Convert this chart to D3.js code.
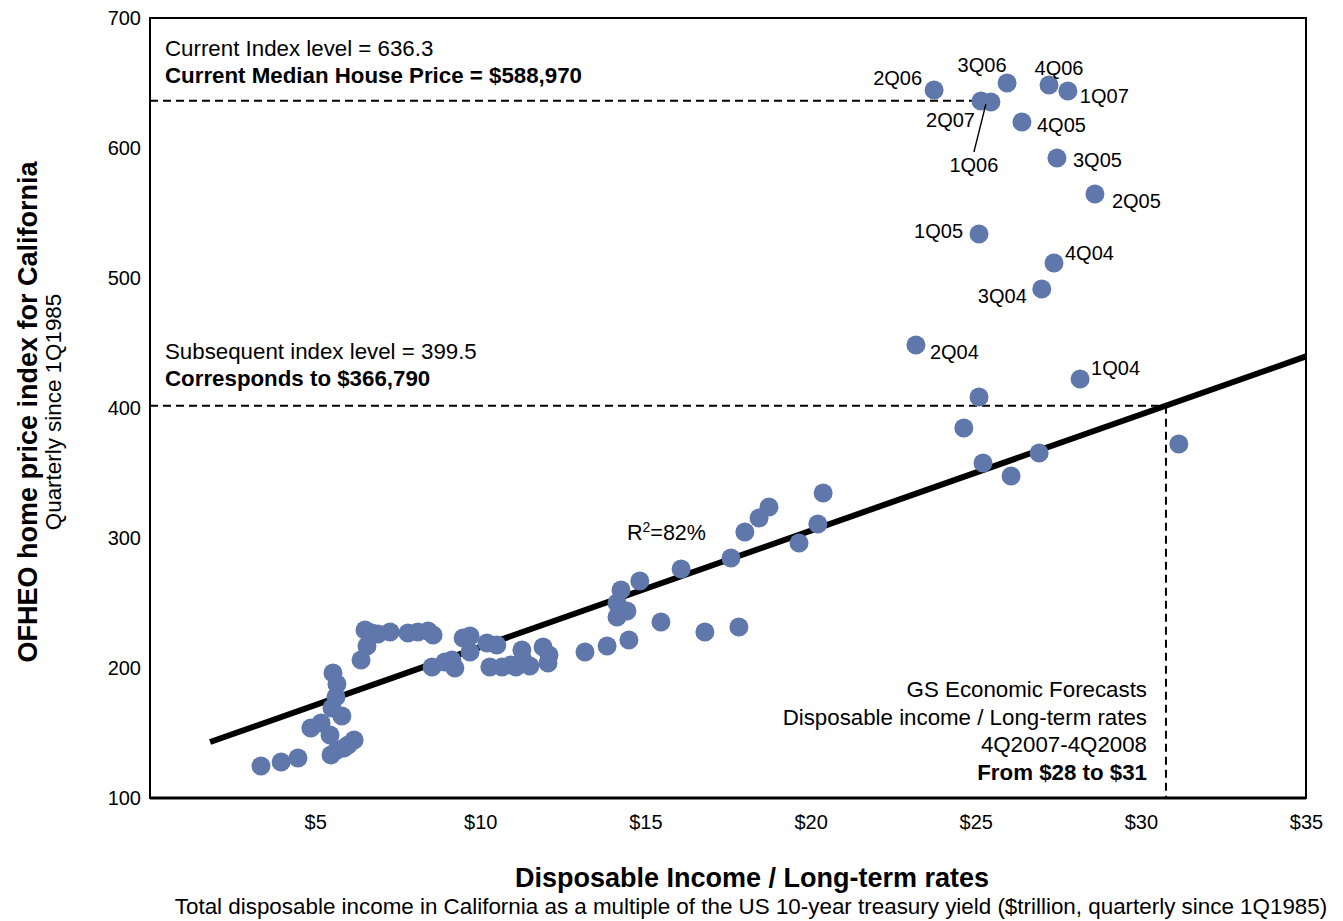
<!DOCTYPE html>
<html>
<head>
<meta charset="utf-8">
<script src="https://cdn.jsdelivr.net/npm/d3@7"></script>
<style>
  html, body { margin: 0; padding: 0; background: #fff; }
  svg text { font-family: Arial, "Liberation Sans", sans-serif; fill: #000; }
</style>
</head>
<body>
<svg id="chart" width="1343" height="921"></svg>
<script>
// ---------- DATA ----------
// Unlabelled quarterly points (Disposable income / long-term rates, OFHEO index)
const pointsX = [3.36, 3.97, 4.48, 4.87, 5.18, 5.45, 5.48, 5.66, 5.87, 6.0, 6.18, 5.51, 5.81, 5.63, 5.66, 5.54,
  6.39, 6.57, 6.51, 6.72, 6.9, 7.27, 7.81, 8.11, 8.42, 8.57,
  8.54, 8.93, 9.14, 9.23, 9.48, 9.69, 9.69, 10.2, 10.29, 10.5, 10.66, 10.93, 11.08, 11.26, 11.29, 11.5, 11.9, 12.08, 12.05,
  13.17, 13.84, 14.5, 14.14, 14.44, 14.14, 14.26, 14.83, 15.47, 16.08, 16.8, 17.59, 17.83, 18.01, 18.44, 18.74, 19.65, 20.22, 20.38,
  24.64, 25.1, 25.22, 26.07, 26.92, 31.15];
const pointsY = [124.6, 127.7, 130.8, 153.8, 157.7, 148.5, 133.1, 136.9, 138.5, 140.8, 144.6, 169.2, 163.1, 177.7, 187.7, 196.2,
  206.2, 216.9, 229.2, 226.9, 226.2, 227.7, 226.9, 227.7, 228.5, 225.4,
  200.8, 204.6, 206.2, 200.0, 223.1, 224.6, 212.3, 219.2, 200.8, 217.7, 200.8, 202.3, 200.8, 213.8, 206.2, 201.5, 216.2, 210.0, 203.8,
  212.3, 216.9, 221.5, 239.2, 243.8, 250.0, 260.0, 266.9, 235.4, 276.2, 227.7, 284.6, 231.5, 304.6, 315.4, 323.8, 296.2, 310.8, 334.6,
  384.6, 408.5, 357.7, 347.7, 365.4, 372.3];

// Labelled recent quarters
const labelNames = ["1Q04", "2Q04", "3Q04", "4Q04", "1Q05", "2Q05", "3Q05", "4Q05", "1Q06", "2Q06", "3Q06", "4Q06", "1Q07", "2Q07"];
const labelX = [28.16, 23.19, 27.0, 27.37, 25.1, 28.61, 27.46, 26.4, 25.46, 23.74, 25.95, 27.22, 27.79, 25.16];
const labelY = [422.3, 448.5, 491.5, 511.5, 533.8, 564.6, 592.3, 620.0, 635.4, 644.6, 650.0, 648.5, 643.8, 636.2];

// Regression line (fitted): y = intercept + slope * x
const fitIntercept = 126.8;
const fitSlope = 8.94;
const fitRange = [1.82, 35];

// Reference levels
const currentIndex = 636.3;
const currentIndexX = 25.16;
const subsequentIndex = 401.8;
const forecastX = 30.76;

// Axes
const xTicks = [5, 10, 15, 20, 25, 30, 35];
const yTicks = [100, 200, 300, 400, 500, 600, 700];

// Texts
const xTitle = "Disposable Income / Long-term rates";
const xSubtitle = "Total disposable income in California as a multiple of the US 10-year treasury yield ($trillion, quarterly since 1Q1985)";
const yTitle = "OFHEO home price index for California";
const ySubtitle = "Quarterly since 1Q1985";
const topNote = ["Current Index level = 636.3", "Current Median House Price = $588,970"];
const midNote = ["Subsequent index level = 399.5", "Corresponds to $366,790"];
const forecastNote = ["GS Economic Forecasts", "Disposable income / Long-term rates", "4Q2007-4Q2008", "From $28 to $31"];

// ---------- LAYOUT ----------
const svg = d3.select("#chart");
const L = 150, R = 1306, T = 18, B = 798;
const x = d3.scaleLinear().domain([0, 35]).range([L, R]);
const y = d3.scaleLinear().domain([100, 700]).range([B, T]);
const dotColor = "#5f77ab";
const rDot = 9.5;
const noteSize = 22.3;

// label placement (pixel offsets from the dot)
const labelPos = {
  "1Q04": {dx: 11, dy: -4, a: "start"},
  "2Q04": {dx: 14, dy: 14, a: "start"},
  "3Q04": {dx: -15, dy: 14, a: "end"},
  "4Q04": {dx: 11, dy: -3, a: "start"},
  "1Q05": {dx: -16, dy: 4, a: "end"},
  "2Q05": {dx: 17, dy: 14, a: "start"},
  "3Q05": {dx: 16, dy: 9, a: "start"},
  "4Q05": {dx: 15, dy: 10, a: "start"},
  "1Q06": {dx: -17, dy: 70, a: "middle"},
  "2Q06": {dx: -12, dy: -5, a: "end"},
  "3Q06": {dx: -25, dy: -11, a: "middle"},
  "4Q06": {dx: 10, dy: -10, a: "middle"},
  "1Q07": {dx: 12, dy: 12, a: "start"},
  "2Q07": {dx: -6, dy: 26, a: "end"}
};

// dashed reference lines
const dash = "8,5";
svg.append("line")
  .attr("x1", L).attr("x2", x(currentIndexX))
  .attr("y1", y(currentIndex)).attr("y2", y(currentIndex))
  .attr("stroke", "#000").attr("stroke-width", 2).attr("stroke-dasharray", dash);
svg.append("line")
  .attr("x1", L).attr("x2", x(forecastX))
  .attr("y1", y(subsequentIndex)).attr("y2", y(subsequentIndex))
  .attr("stroke", "#000").attr("stroke-width", 2).attr("stroke-dasharray", dash);
svg.append("line")
  .attr("x1", x(forecastX)).attr("x2", x(forecastX))
  .attr("y1", y(subsequentIndex)).attr("y2", B)
  .attr("stroke", "#000").attr("stroke-width", 2).attr("stroke-dasharray", dash);

// regression line
svg.append("line")
  .attr("x1", x(fitRange[0])).attr("y1", y(fitIntercept + fitSlope * fitRange[0]))
  .attr("x2", x(fitRange[1])).attr("y2", y(fitIntercept + fitSlope * fitRange[1]))
  .attr("stroke", "#000").attr("stroke-width", 6);

// dots
const pts = pointsX.map((v, i) => ({x: v, y: pointsY[i]}));
const lab = labelNames.map((n, i) => ({name: n, x: labelX[i], y: labelY[i]}));
svg.append("g").selectAll("circle").data(pts.concat(lab)).join("circle")
  .attr("cx", d => x(d.x)).attr("cy", d => y(d.y)).attr("r", rDot)
  .attr("fill", dotColor);

// leader line for 1Q06
const q106 = lab.find(d => d.name === "1Q06");
svg.append("line")
  .attr("x1", x(q106.x) - 5).attr("y1", y(q106.y) + 2)
  .attr("x2", x(q106.x) - 17).attr("y2", y(q106.y) + 50)
  .attr("stroke", "#000").attr("stroke-width", 1.3);

// point labels
svg.append("g").selectAll("text").data(lab).join("text")
  .attr("x", d => x(d.x) + labelPos[d.name].dx)
  .attr("y", d => y(d.y) + labelPos[d.name].dy)
  .attr("text-anchor", d => labelPos[d.name].a)
  .attr("font-size", 20)
  .text(d => d.name);

// plot frame
svg.append("rect").attr("x", L).attr("y", T).attr("width", R - L).attr("height", B - T)
  .attr("fill", "none").attr("stroke", "#000").attr("stroke-width", 2);
svg.append("line").attr("x1", L).attr("x2", R).attr("y1", B).attr("y2", B)
  .attr("stroke", "#000").attr("stroke-width", 3);

// axes (D3 axes, domain and ticks hidden to match the frame style)
const xAxis = svg.append("g").attr("transform", `translate(0,${B})`)
  .call(d3.axisBottom(x).tickValues(xTicks).tickSize(0).tickPadding(17).tickFormat(d => "$" + d));
xAxis.select(".domain").remove();
xAxis.selectAll("text").attr("font-size", 20).attr("font-family", "Arial, 'Liberation Sans', sans-serif").attr("fill", "#000");

const yAxis = svg.append("g").attr("transform", `translate(${L},0)`)
  .call(d3.axisLeft(y).tickValues(yTicks).tickSize(0).tickPadding(9).tickFormat(d3.format("d")));
yAxis.select(".domain").remove();
yAxis.selectAll("text").attr("font-size", 20).attr("font-family", "Arial, 'Liberation Sans', sans-serif").attr("fill", "#000");

// axis titles
svg.append("text").attr("x", 752).attr("y", 887).attr("text-anchor", "middle")
  .attr("font-size", 27).attr("font-weight", "bold").text(xTitle);
svg.append("text").attr("x", 751).attr("y", 914).attr("text-anchor", "middle")
  .attr("font-size", 22.4).text(xSubtitle);

svg.append("text").attr("transform", "translate(37,412) rotate(-90)").attr("text-anchor", "middle")
  .attr("font-size", 27).attr("font-weight", "bold").text(yTitle);
svg.append("text").attr("transform", "translate(61,412) rotate(-90)").attr("text-anchor", "middle")
  .attr("font-size", 22.4).text(ySubtitle);

// annotations
svg.append("text").attr("x", 165).attr("y", 56).attr("font-size", noteSize).text(topNote[0]);
svg.append("text").attr("x", 165).attr("y", 83).attr("font-size", noteSize).attr("font-weight", "bold").text(topNote[1]);
svg.append("text").attr("x", 165).attr("y", 359).attr("font-size", noteSize).text(midNote[0]);
svg.append("text").attr("x", 165).attr("y", 386).attr("font-size", noteSize).attr("font-weight", "bold").text(midNote[1]);

const r2 = svg.append("text").attr("x", 627).attr("y", 540).attr("font-size", 21.5);
r2.append("tspan").text("R");
r2.append("tspan").attr("font-size", 14).attr("dy", -8).text("2");
r2.append("tspan").attr("dy", 8).text("=82%");

forecastNote.forEach((t, i) => {
  svg.append("text").attr("x", 1147).attr("y", 697 + i * 27.7)
    .attr("text-anchor", "end").attr("font-size", noteSize)
    .attr("font-weight", i === forecastNote.length - 1 ? "bold" : "normal")
    .text(t);
});
</script>
</body>
</html>
